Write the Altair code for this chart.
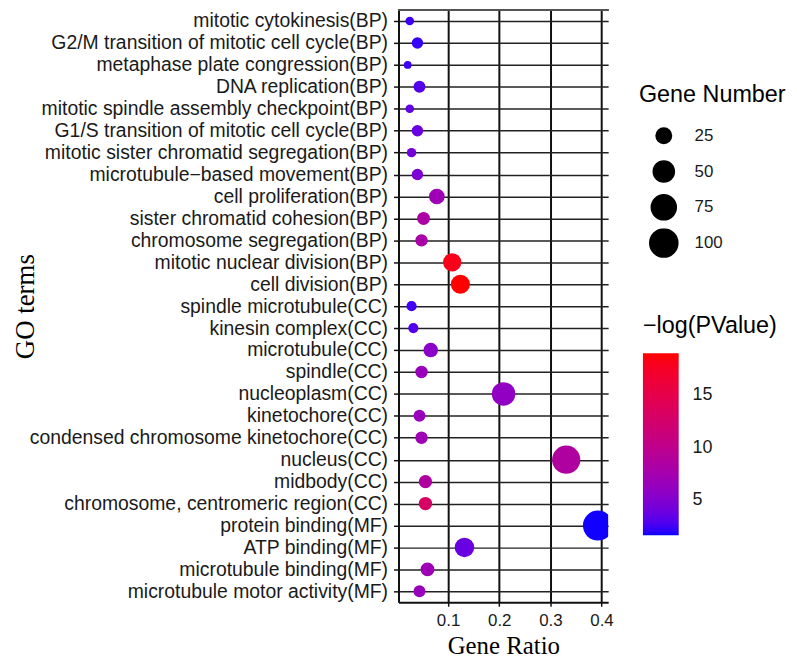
import altair as alt
import pandas as pd

terms = [
    "mitotic cytokinesis(BP)",
    "G2/M transition of mitotic cell cycle(BP)",
    "metaphase plate congression(BP)",
    "DNA replication(BP)",
    "mitotic spindle assembly checkpoint(BP)",
    "G1/S transition of mitotic cell cycle(BP)",
    "mitotic sister chromatid segregation(BP)",
    "microtubule\u2212based movement(BP)",
    "cell proliferation(BP)",
    "sister chromatid cohesion(BP)",
    "chromosome segregation(BP)",
    "mitotic nuclear division(BP)",
    "cell division(BP)",
    "spindle microtubule(CC)",
    "kinesin complex(CC)",
    "microtubule(CC)",
    "spindle(CC)",
    "nucleoplasm(CC)",
    "kinetochore(CC)",
    "condensed chromosome kinetochore(CC)",
    "nucleus(CC)",
    "midbody(CC)",
    "chromosome, centromeric region(CC)",
    "protein binding(MF)",
    "ATP binding(MF)",
    "microtubule binding(MF)",
    "microtubule motor activity(MF)",
]

gene_ratio = [0.025, 0.040, 0.021, 0.044, 0.025, 0.040, 0.0285, 0.040, 0.078, 0.052,
              0.048, 0.108, 0.124, 0.0285, 0.032, 0.066, 0.048, 0.2085, 0.044, 0.048,
              0.331, 0.0557, 0.0557, 0.393, 0.132, 0.0597, 0.044]

gene_number = [7, 11, 6, 12, 7, 11, 8, 11, 21, 14,
               13, 30, 33, 9, 9, 18, 13, 55, 12, 13,
               88, 15, 15, 104, 35, 16, 12]

neg_log_p = [2.4, 2.2, 2.4, 3.0, 3.4, 3.8, 4.3, 4.8, 7.0, 8.3,
             8.0, 18.0, 18.9, 2.5, 3.0, 5.6, 6.5, 6.0, 6.5, 7.0,
             8.5, 8.5, 13.0, 1.8, 3.8, 7.0, 6.5]

size_legend_values = [25, 50, 75, 100]
color_legend_values = [5, 10, 15]
x_ticks = [0.1, 0.2, 0.3, 0.4]

df = pd.DataFrame({
    "term": terms,
    "ratio": gene_ratio,
    "count": gene_number,
    "logp": neg_log_p,
})

W, H = 211, 596
SANS = "Liberation Sans"
SERIF = "Liberation Serif"

points = alt.Chart(df).mark_circle(opacity=1, clip=True, strokeWidth=0).encode(
    x=alt.X(
        "ratio:Q",
        scale=alt.Scale(domain=[0.003, 0.413], nice=False, zero=False),
        axis=alt.Axis(
            title="Gene Ratio",
            values=x_ticks,
            format=".1f",
            grid=True,
            gridColor="#111111",
            gridWidth=2,
            domainColor="#111111",
            domainWidth=2,
            tickColor="#111111",
            tickWidth=1.5,
            tickSize=4,
            labelFont=SANS,
            labelFontSize=17,
            labelColor="#1a1a1a",
            labelPadding=6,
            titleFont=SERIF,
            titleFontSize=25,
            titleFontWeight="normal",
            titleColor="black",
            titlePadding=6,
        ),
    ),
    y=alt.Y(
        "term:N",
        sort=terms,
        scale=alt.Scale(padding=0.5),
        axis=alt.Axis(
            title="GO terms",
            grid=True,
            gridColor="#222222",
            gridWidth=1.5,
            domainColor="#111111",
            domainWidth=2,
            tickColor="#111111",
            tickWidth=1.5,
            tickSize=5,
            labelFont=SANS,
            labelFontSize=19.5,
            labelColor="#1a1a1a",
            labelPadding=6,
            labelLimit=500,
            titleFont=SERIF,
            titleFontSize=27,
            titleFontWeight="normal",
            titleColor="black",
            titleX=-367,
            titleBaseline="alphabetic",
        ),
    ),
    size=alt.Size(
        "count:Q",
        scale=alt.Scale(type="pow", exponent=0.7, domain=[5, 102], range=[45, 900]),
        legend=alt.Legend(
            orient="none",
            legendX=242,
            legendY=74,
            title="Gene Number",
            values=size_legend_values,
            symbolType="circle",
            symbolFillColor="black",
            symbolStrokeColor="black",
            symbolStrokeWidth=0,
            symbolOffset=10,
            clipHeight=30,
            rowPadding=6,
            titlePadding=14,
            labelOffset=16,
            titleFont=SANS,
            titleFontSize=23.5,
            titleFontWeight="normal",
            titleColor="black",
            labelFont=SANS,
            labelFontSize=17,
            labelColor="#1a1a1a",
        ),
    ),
    color=alt.Color(
        "logp:Q",
        scale=alt.Scale(domain=[1.72, 18.9], range=["blue", "red"], interpolate="lab", nice=False, zero=False),
        legend=alt.Legend(
            orient="none",
            legendX=246,
            legendY=306,
            title="\u2212log(PValue)",
            direction="vertical",
            values=color_legend_values,
            gradientLength=183,
            gradientThickness=36,
            gradientStrokeWidth=0,
            titlePadding=16,
            labelOffset=14,
            titleFont=SANS,
            titleFontSize=23.5,
            titleFontWeight="normal",
            titleColor="black",
            labelFont=SANS,
            labelFontSize=18,
            labelColor="#1a1a1a",
        ),
    ),
)

top_line = alt.Chart(df).mark_rule(color="#555555", strokeWidth=1).encode(
    x=alt.value(0), x2=alt.value(W), y=alt.value(0)
)

chart = alt.layer(points, top_line).properties(
    width=W,
    height=H,
    autosize=alt.AutoSizeParams(type="none"),
    padding={"left": 393, "top": 0, "right": 182, "bottom": 54},
    background="white",
).configure_view(stroke=None)

chart.save("out.html", embed_options={"renderer": "svg", "actions": False})
